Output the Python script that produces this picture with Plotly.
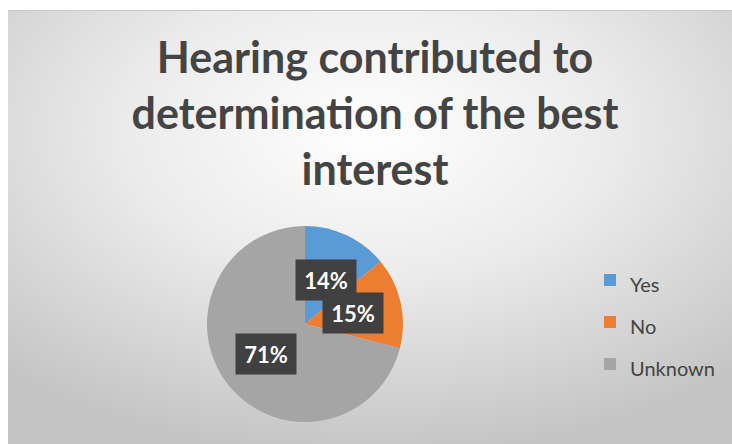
import math, base64
import plotly.graph_objects as go

categories = ["Yes", "No", "Unknown"]
values = [14, 15, 71]
colors = ["#5B9BD5", "#ED7D31", "#A5A5A5"]
title_lines = ["Hearing contributed to", "determination of the best", "interest"]

W, H = 732, 444
# chart area offset inside the page (white strip at top/left)
ox, oy = 8, 10
# pie geometry (pixels)
cx_px, cy_px, r_px = 305, 324, 98
dom_x = [(cx_px - r_px) / W, (cx_px + r_px) / W]
dom_y = [(H - cy_px - r_px) / H, (H - cy_px + r_px) / H]

cw, ch = W - ox, H - oy
svg = f'''<svg xmlns="http://www.w3.org/2000/svg" width="{W}" height="{H}" viewBox="0 0 {W} {H}">
<defs><radialGradient id="g" cx="50%" cy="28%" r="75%">
<stop offset="0" stop-color="#ffffff"/><stop offset="0.45" stop-color="#ebebeb"/>
<stop offset="1" stop-color="#c4c4c4"/></radialGradient></defs>
<rect x="0" y="0" width="{W}" height="{H}" fill="#ffffff"/>
<rect x="{ox}" y="{oy}" width="{cw}" height="{ch}" fill="url(#g)"/>
<line x1="{ox}" y1="{oy + 0.5}" x2="{W}" y2="{oy + 0.5}" stroke="#c8c8c8" stroke-width="1"/>
</svg>'''
src = "data:image/svg+xml;base64," + base64.b64encode(svg.encode()).decode()

legend_labels = [f"<span style='font-size:20px'>{c}</span>" for c in categories]

fig = go.Figure(go.Pie(
    labels=legend_labels, values=values, sort=False, direction="clockwise",
    rotation=0, marker=dict(colors=colors, line=dict(width=0)),
    textinfo="none", domain=dict(x=dom_x, y=dom_y),
    hovertemplate="%{label}: %{percent}<extra></extra>",
))

total = sum(values)
annotations = []
cum = 0
for v in values:
    mid = (cum + v / 2) / total * 2 * math.pi
    cum += v
    px = cx_px + 0.5 * r_px * math.sin(mid)
    py = cy_px - 0.5 * r_px * math.cos(mid)
    annotations.append(dict(
        x=px / W, y=1 - py / H, xref="paper", yref="paper",
        text=f"<b>{v / total * 100:.0f}%</b>", showarrow=False,
        font=dict(family="Lato", size=22, color="white"),
        bgcolor="#404040", width=58, height=38,
        xanchor="center", yanchor="middle",
    ))

fig.update_layout(
    width=W, height=H,
    margin=dict(l=0, r=0, t=0, b=0),
    paper_bgcolor="white",
    title=dict(text="<br>".join(title_lines), x=375 / W, xanchor="center",
               y=1 - 73 / H, yanchor="top",
               font=dict(family="Lato", size=43, color="#444444", weight="bold")),
    legend=dict(x=590 / W, xanchor="left", y=(H - 322) / H, yanchor="middle",
                font=dict(family="Lato", size=30, color="#444444"),
                bgcolor="rgba(0,0,0,0)"),
    annotations=annotations,
    images=[dict(source=src, xref="paper", yref="paper", x=0, y=1,
                 sizex=1, sizey=1, sizing="stretch",
                 xanchor="left", yanchor="top", layer="below")],
)
fig.write_html(
    "out.html",
    config={"displayModeBar": False},
    post_script="document.body.style.margin='0';document.documentElement.style.overflow='hidden';",
)
